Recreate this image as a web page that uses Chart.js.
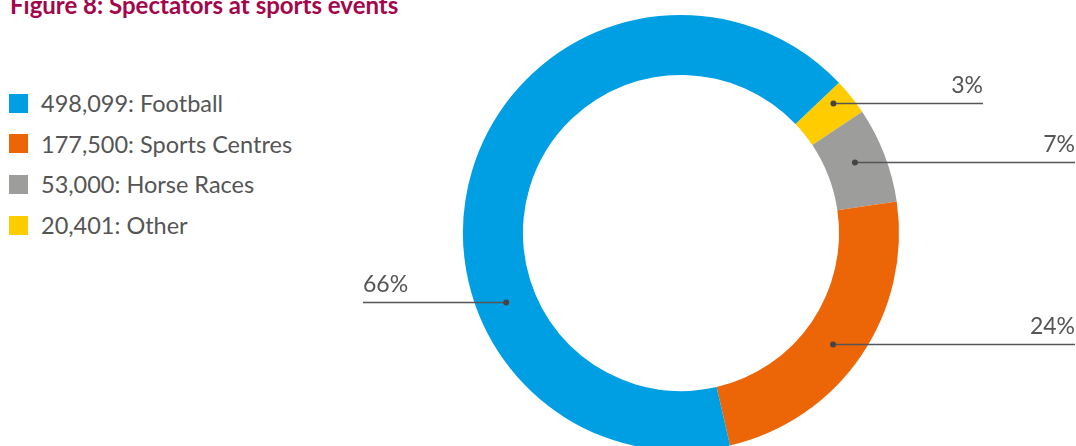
<!DOCTYPE html>
<html>
<head>
<meta charset="utf-8">
<script src="https://cdn.jsdelivr.net/npm/chart.js@4/dist/chart.umd.min.js"></script>
<style>
  html, body { margin: 0; padding: 0; background: #fff; overflow: hidden; width: 1076px; height: 446px; }
  #title { position: absolute; left: 10px; top: -7px; font: bold 24px Lato, sans-serif; color: #a3064b; white-space: nowrap; line-height: 24px; }
  #legend { position: absolute; left: 9px; top: 93px; font: 23.5px Lato, sans-serif; color: #555; }
  .item { display: flex; align-items: center; height: 20px; margin-bottom: 20.7px; white-space: nowrap; }
  .box { width: 19px; height: 19px; margin-right: 13px; }
  #wrap { position: absolute; left: 0; top: 0; width: 1076px; height: 460px; }
</style>
</head>
<body>
<div id="title">Figure 8: Spectators at sports events</div>
<div id="legend"></div>
<div id="wrap"><canvas id="donut"></canvas></div>
<script>
// values in legend order
var categories = ["Football", "Sports Centres", "Horse Races", "Other"];
var spectators = [498099, 177500, 53000, 20401];
var pctLabels = ["66%", "24%", "7%", "3%"];
var colors = ["#009fe3", "#ec6608", "#9d9d9c", "#ffcc00"];

// legend
var legend = document.getElementById('legend');
categories.forEach(function (c, i) {
    var row = document.createElement('div');
    row.className = 'item';
    row.innerHTML = '<span class="box" style="background:' + colors[i] + '"></span>' +
        spectators[i].toLocaleString('en-GB') + ': ' + c;
    legend.appendChild(row);
});

// the doughnut runs the other way round, so reverse for the chart
var order = [3, 2, 1, 0];

// where along each slice the callout dot sits and where its line ends (legend order)
var calloutAt = [0.34, 0.52, 0.45, 0.33];
var calloutOut = [0, 0, 0, 12];
var calloutEnd = [363, 1075, 1075, 983];

var callouts = {
    id: 'callouts',
    afterDatasetsDraw: function (chart) {
        var ctx = chart.ctx;
        var arcs = chart.getDatasetMeta(0).data;
        ctx.save();
        arcs.forEach(function (arc, j) {
            var i = order[j];
            var p = arc.getProps(['x', 'y', 'startAngle', 'endAngle', 'innerRadius', 'outerRadius'], true);
            var a = p.startAngle + calloutAt[i] * (p.endAngle - p.startAngle);
            var r = (p.innerRadius + p.outerRadius) / 2 + calloutOut[i];
            var dx = p.x + r * Math.cos(a);
            var dy = Math.round(p.y + r * Math.sin(a)) + 0.5;
            var ex = calloutEnd[i];
            ctx.strokeStyle = '#555';
            ctx.lineWidth = 1.5;
            ctx.beginPath();
            ctx.moveTo(dx, dy);
            ctx.lineTo(ex, dy);
            ctx.stroke();
            ctx.fillStyle = '#444';
            ctx.beginPath();
            ctx.arc(dx, dy, 3, 0, Math.PI * 2);
            ctx.fill();
            ctx.fillStyle = '#555';
            ctx.font = '23px Lato, sans-serif';
            ctx.textBaseline = 'alphabetic';
            ctx.textAlign = ex < dx ? 'left' : 'right';
            ctx.fillText(pctLabels[i], ex, dy - 11);
        });
        ctx.restore();
    }
};

var ctx = document.getElementById('donut').getContext('2d');
var chart = new Chart(ctx, {
    type: 'doughnut',
    data: {
        labels: order.map(i => categories[i]),
        datasets: [{
            data: order.map(i => spectators[i]),
            backgroundColor: order.map(i => colors[i]),
            borderWidth: 0
        }]
    },
    options: {
        responsive: true,
        maintainAspectRatio: false,
        animation: false,
        rotation: 46.4,
        cutout: '72.5%',
        layout: { padding: { left: 463, right: 177, top: 15, bottom: 9 } },
        plugins: {
            legend: { display: false },
            tooltip: { enabled: false }
        }
    },
    plugins: [callouts]
});
</script>
</body>
</html>
